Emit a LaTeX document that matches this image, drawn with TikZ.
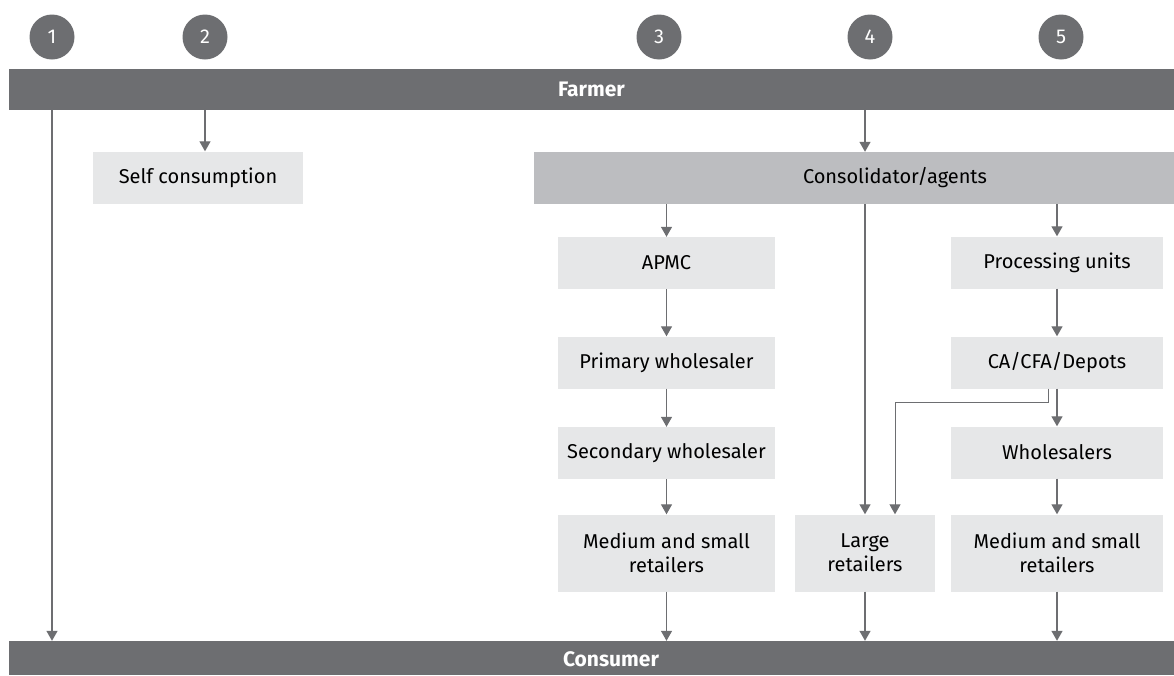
\documentclass[tikz,border=0pt]{standalone}
\usepackage{fontspec}
\setmainfont{Fira Sans}
\usepackage{xcolor}
\usetikzlibrary{arrows.meta,positioning}

\definecolor{bardark}{HTML}{6D6E71}
\definecolor{boxmid}{HTML}{BCBDC0}
\definecolor{boxlight}{HTML}{E6E7E8}

\begin{document}
\begin{tikzpicture}[
    x=1pt, y=-1pt,
    every node/.style={font=\fontsize{20}{24}\selectfont},
    bar/.style={rectangle, fill=bardark, minimum width=1165pt, inner sep=0pt, text=white, font=\fontsize{21}{24}\selectfont\bfseries},
    box/.style={rectangle, fill=boxlight, minimum height=52pt, inner sep=0pt, align=center},
    tallbox/.style={box, minimum height=77pt},
    num/.style={circle, fill=bardark, minimum size=45pt, inner sep=0pt, text=white, font=\fontsize{20}{22}\selectfont},
    flow/.style={draw=bardark, line width=1.3pt, -{Triangle[width=11pt,length=10pt]}}
]
\useasboundingbox (0,0) rectangle (1174,675);

% Channel numbers
\node[num] (n1) at (52,37) {1};
\node[num] (n2) at (205,37) {2};
\node[num] (n3) at (659,37) {3};
\node[num] (n4) at (870,37) {4};
\node[num] (n5) at (1061,37) {5};

% Farmer and Consumer
\node[bar, minimum height=41pt] (farmer) at (591.5,89.5) {Farmer};
\node[bar, minimum height=34pt] (consumer) at (591.5,658) {};
\node[text=white, font=\fontsize{21}{24}\selectfont\bfseries] (consumerlbl) at (611,659) {Consumer};

% Self consumption
\node[box, minimum width=210pt] (selfc) at (198,177.5) {Self consumption};

% Consolidator
\node[box, fill=boxmid, minimum width=640pt] (consol) at (854,178) {};
\node (consollbl) at (895,178) {Consolidator/agents};

% Channel 3
\node[box, minimum width=217pt] (apmc) at (666.5,263) {APMC};
\node[box, minimum width=217pt] (primary) at (666.5,362.5) {Primary wholesaler};
\node[box, minimum width=217pt] (secondary) at (666.5,453) {Secondary wholesaler};
\node[tallbox, minimum width=217pt] (retailthree) at (666.5,553) {Medium and small\\retailers};

% Channel 4
\node[tallbox, minimum width=140pt] (large) at (865,553) {Large\\retailers};

% Channel 5
\node[box, minimum width=212pt] (proc) at (1057,262.5) {Processing units};
\node[box, minimum width=212pt] (depots) at (1057,362.5) {CA/CFA/Depots};
\node[box, minimum width=212pt] (whole) at (1057,452.5) {Wholesalers};
\node[tallbox, minimum width=212pt] (retailfive) at (1057,553) {Medium and small\\retailers};

% Flows
\draw[flow] (farmer.south -| n1) -- (consumer.north -| n1);
\draw[flow] (farmer.south -| n2) -- (selfc.north -| n2);
\draw[flow] (farmer.south -| large) -- (consol.north -| large);

\draw[flow] (consol.south -| apmc) -- (apmc.north);
\draw[flow] (apmc) -- (primary);
\draw[flow] (primary) -- (secondary);
\draw[flow] (secondary) -- (retailthree);
\draw[flow] (retailthree.south) -- (consumer.north -| retailthree);

\draw[flow] (consol.south -| large) -- (large.north);
\draw[flow] (large.south) -- (consumer.north -| large);

\draw[flow] (consol.south -| proc) -- (proc.north);
\draw[flow] (proc) -- (depots);
\draw[flow] (depots) -- (whole);
\draw[flow] (whole) -- (retailfive);
\draw[flow] (retailfive.south) -- (consumer.north -| retailfive);
\draw[flow, line width=1pt] ([xshift=-9pt]depots.south) -- ++(0,14) -| ([xshift=30pt]large.north);

\end{tikzpicture}
\end{document}
